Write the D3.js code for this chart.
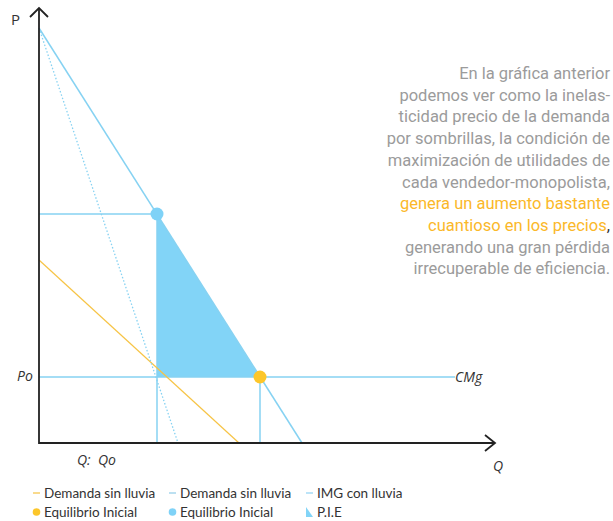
<!DOCTYPE html>
<html><head><meta charset="utf-8">
<script src="https://cdn.jsdelivr.net/npm/d3@7/dist/d3.min.js"></script>
<style>body{margin:0;background:#fff}svg{display:block}</style>
</head><body>
<script>
// ---- data (economic units) ----
const demandaConLluvia = [[0, 41.5], [26.3, 0]];
const imgConLluvia = [[0, 41.5], [13.9, 0]];
const demandaSinLluvia = [[0, 18.3], [20.0, 0]];
const cmgLevel = 6.6;
const cmgEnd = 41.6;
const equilibrioMonopolio = {q: 11.8, p: 22.9};
const equilibrioInicial = {q: 22.1, p: 6.6};
const pie = [[11.8, 22.9], [11.8, 6.6], [22.1, 6.6]];
const axisMax = {q: 45.6, p: 43.5};
const textLines = [
  ["En la gráfica anterior", 0],
  ["podemos ver como la inelas-", 0],
  ["ticidad precio de la demanda", 0],
  ["por sombrillas, la condición de", 0],
  ["maximización de utilidades de", 0],
  ["cada vendedor-monopolista,", 0],
  ["genera un aumento bastante", 1],
  ["cuantioso en los precios", 1, ","],
  ["generando una gran pérdida", 0],
  ["irrecuperable de eficiencia.", 0]
];
const legendItems = [
  {label: "Demanda sin lluvia", type: "line", color: "#f5c142"},
  {label: "Demanda sin lluvia", type: "line", color: "#8fcbe8"},
  {label: "IMG con lluvia", type: "line", color: "#8fd3f3"},
  {label: "Equilibrio Inicial", type: "dot", color: "#fcc62a"},
  {label: "Equilibrio Inicial", type: "dot", color: "#7fd2f7"},
  {label: "P.I.E", type: "tri", color: "#82d4f7"}
];

const W = 613, H = 521;
const svg = d3.select("body").append("svg").attr("width", W).attr("height", H);
const x = d3.scaleLinear().domain([0, axisMax.q]).range([39, 495]);
const y = d3.scaleLinear().domain([0, axisMax.p]).range([443, 8]);
const blue = "#86d2f2", yellow = "#f7c445", axisC = "#222";
const line = d3.line().x(d => x(d[0])).y(d => y(d[1]));

// P.I.E triangle
svg.append("path").attr("d", line(pie) + "Z").attr("fill", "#82d4f7");

// guide lines
const g = svg.append("g").attr("stroke", blue).attr("stroke-width", 1.5).attr("fill", "none");
g.append("path").attr("d", line([[0, equilibrioMonopolio.p], [equilibrioMonopolio.q, equilibrioMonopolio.p]]));
g.append("path").attr("d", line([[equilibrioMonopolio.q, equilibrioMonopolio.p], [equilibrioMonopolio.q, 0]]));
g.append("path").attr("d", line([[0, cmgLevel], [cmgEnd, cmgLevel]]));
g.append("path").attr("d", line([[equilibrioInicial.q, equilibrioInicial.p], [equilibrioInicial.q, 0]]));

// curves
svg.append("path").attr("d", line(demandaSinLluvia)).attr("stroke", yellow).attr("stroke-width", 1.2).attr("fill", "none");
svg.append("path").attr("d", line(imgConLluvia)).attr("stroke", blue).attr("stroke-width", 1.3)
  .attr("stroke-dasharray", "1.5,2").attr("fill", "none");
svg.append("path").attr("d", line(demandaConLluvia)).attr("stroke", blue).attr("stroke-width", 1.5).attr("fill", "none");

// axes
const ax = svg.append("g").attr("stroke", axisC).attr("stroke-width", 1.8).attr("fill", "none");
ax.append("path").attr("d", line([[0, axisMax.p], [0, 0], [axisMax.q, 0]]));
ax.append("path").attr("d", `M${x(0)-9},${y(axisMax.p)+9}L${x(0)},${y(axisMax.p)}L${x(0)+9},${y(axisMax.p)+9}`);
ax.append("path").attr("d", `M${x(axisMax.q)-10},${y(0)-8}L${x(axisMax.q)},${y(0)}L${x(axisMax.q)-10},${y(0)+8}`);

// points
svg.append("circle").attr("cx", x(equilibrioMonopolio.q)).attr("cy", y(equilibrioMonopolio.p)).attr("r", 6.5).attr("fill", "#7fd2f7");
svg.append("circle").attr("cx", x(equilibrioInicial.q)).attr("cy", y(equilibrioInicial.p)).attr("r", 6.5).attr("fill", "#fcc62a");

// labels
const lab = svg.append("g").attr("font-family", "'Open Sans', sans-serif").attr("font-size", 14).attr("fill", "#333");
lab.append("text").attr("x", 11).attr("y", 25).attr("font-size", 15).text("P");
lab.append("text").attr("x", 17).attr("y", 381).attr("font-style", "italic").text("Po");
lab.append("text").attr("x", x(cmgEnd)).attr("y", 382).attr("font-style", "italic").text("CMg");
lab.append("text").attr("x", 493).attr("y", 471).attr("font-style", "italic").text("Q");
lab.append("text").attr("x", 77).attr("y", 465).attr("font-style", "italic").attr("xml:space", "preserve").text("Q:  Qo");

// paragraph
const para = svg.append("g").attr("font-family", "'Roboto', sans-serif")
  .attr("font-size", 16.5).attr("text-anchor", "end");
textLines.forEach((d, i) => {
  const t = para.append("text").attr("x", 610).attr("y", 79 + i * 21.7);
  t.append("tspan").attr("fill", d[1] ? "#fbb829" : "#9b9b9b").text(d[0]);
  if (d[2]) t.append("tspan").attr("fill", "#333").text(d[2]);
});

// legend
const lg = svg.append("g").attr("font-family", "Lato, sans-serif").attr("font-size", 13.5).attr("fill", "#333");
const colX = [33, 169, 306], rowY = [493, 512];
legendItems.forEach((d, i) => {
  const cx = colX[i % 3], cy = rowY[Math.floor(i / 3)];
  if (d.type === "line") lg.append("line").attr("x1", cx).attr("x2", cx + 7).attr("y1", cy).attr("y2", cy).attr("stroke", d.color).attr("stroke-width", 1.2);
  else if (d.type === "dot") lg.append("circle").attr("cx", cx + 3.5).attr("cy", cy).attr("r", 3.8).attr("fill", d.color);
  else lg.append("path").attr("d", `M${cx},${cy-5}L${cx},${cy+5}L${cx+7},${cy+5}Z`).attr("fill", d.color);
  lg.append("text").attr("x", cx + (i % 3 === 2 ? 11 : 11)).attr("y", cy + 5).text(d.label);
});
</script>
</body></html>
